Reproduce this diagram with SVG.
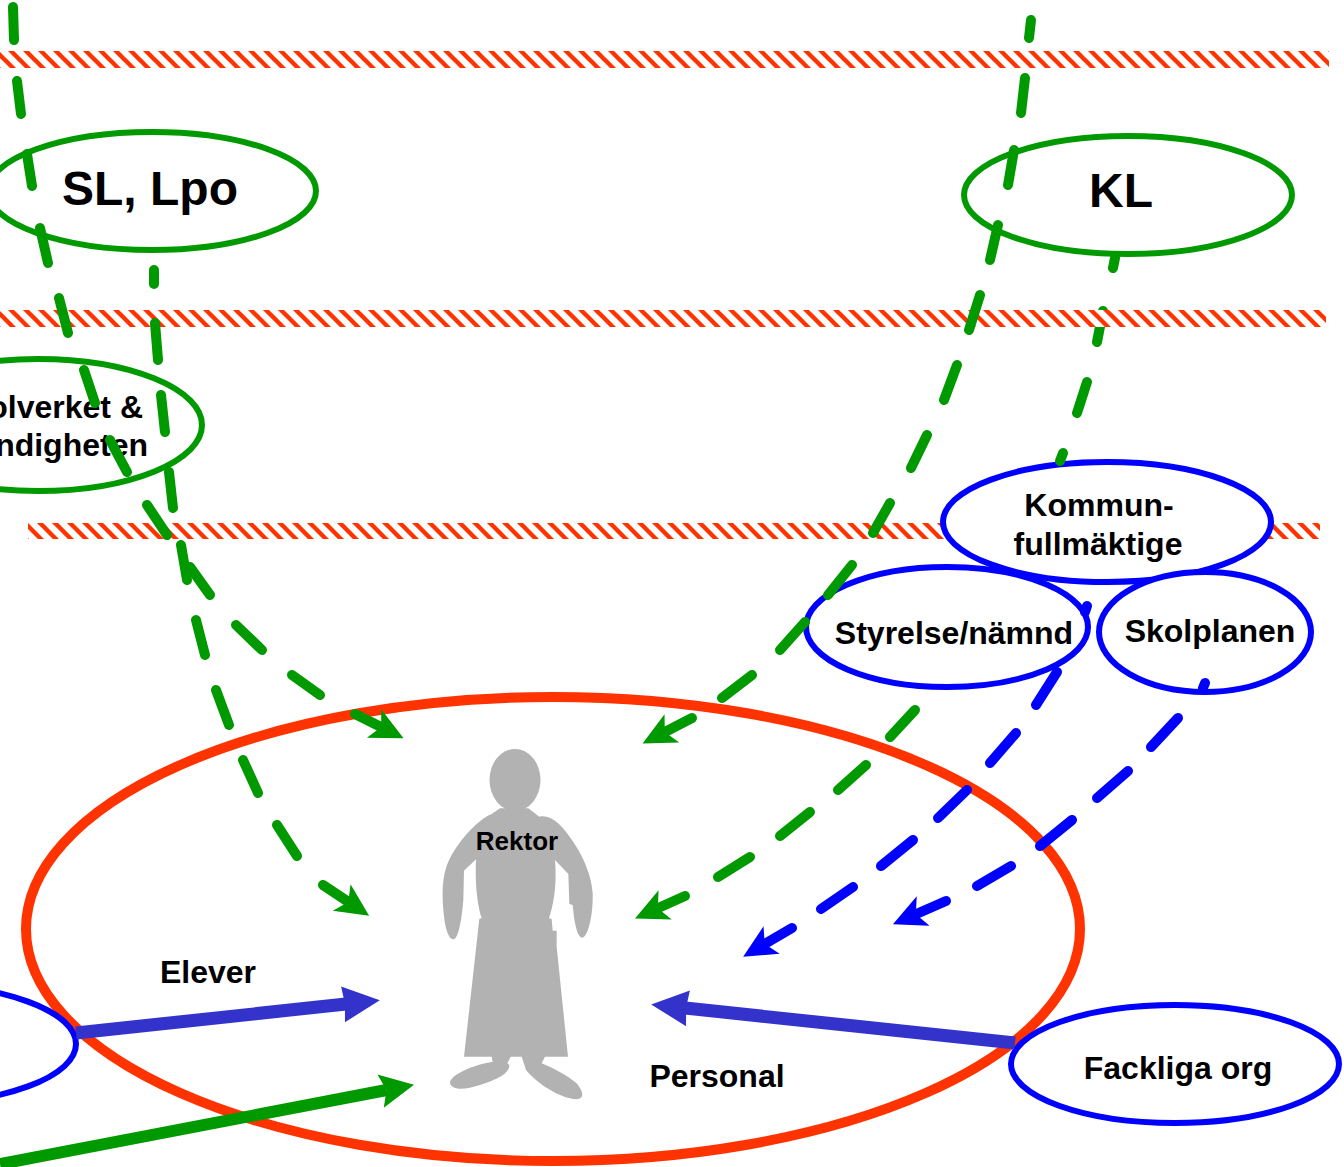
<svg xmlns="http://www.w3.org/2000/svg" width="1344" height="1167" viewBox="0 0 1344 1167">
<style>
text{font-family:"Liberation Sans",Arial,sans-serif;font-weight:bold;fill:#000;text-anchor:middle}
.t32{font-size:32px}.t48{font-size:48px}.t26{font-size:26px}
.ng{fill:#fff;stroke:#009900;stroke-width:6}
.nb{fill:#fff;stroke:#0000ff;stroke-width:6}
.dg{stroke:#009900;stroke-width:10;stroke-linecap:round;fill:none}
.db{stroke:#0000ff;stroke-width:10;stroke-linecap:round;fill:none}
.fig{fill:#b2b2b2}
</style>
<defs>
<pattern id="hatch" patternUnits="userSpaceOnUse" width="15" height="15">
<rect width="15" height="15" fill="#fff"/>
<path d="M-4,-4 L19,19 M-4,11 L4,19 M11,-4 L19,4" stroke="#ff3300" stroke-width="4.4" fill="none"/>
</pattern>
<pattern id="h1" href="#hatch" patternTransform="translate(5 0)"/>
<pattern id="h2" href="#hatch" patternTransform="translate(1 0)"/>
<pattern id="h3" href="#hatch" patternTransform="translate(12 0)"/>
<marker id="hg" markerUnits="userSpaceOnUse" markerWidth="36" markerHeight="36" refX="10" refY="17" orient="auto"><path d="M33,17 L0,1 L8,17 L0,33 Z" fill="#009900"/></marker>
<marker id="hb" markerUnits="userSpaceOnUse" markerWidth="36" markerHeight="36" refX="10" refY="17" orient="auto"><path d="M33,17 L0,1 L8,17 L0,33 Z" fill="#0000ff"/></marker>
<marker id="sp" markerUnits="userSpaceOnUse" markerWidth="40" markerHeight="40" refX="3" refY="19" orient="auto"><path d="M37,19 L0,1 L2,19 L0,37 Z" fill="#3333cc"/></marker>
<marker id="sg" markerUnits="userSpaceOnUse" markerWidth="40" markerHeight="40" refX="6" refY="19" orient="auto"><path d="M34,19 L0,2 L6,19 L0,36 Z" fill="#009900"/></marker>
</defs>

<g id="boundaries">
<rect fill="url(#h1)" x="0" y="51" width="1329" height="17"/>
<rect fill="url(#h2)" x="0" y="310" width="1326" height="17"/>
<rect fill="url(#h3)" x="28" y="523" width="1292" height="16"/>
</g>

<g id="node-rektor-area"><ellipse cx="553" cy="929" rx="527" ry="232" fill="none" stroke="#ff3300" stroke-width="10"/></g>

<g id="node-rektor">
<ellipse class="fig" cx="515" cy="780" rx="25.5" ry="31"/>
<path class="fig" transform="translate(420 730) scale(0.33333)" d="M240,235 L215,252 C170,270 110,340 85,395 C65,440 65,500 72,560 C78,610 90,628 100,628 C115,628 125,570 130,510 L132,422 L168,388 C165,450 170,520 185,565 L178,566 L132,980 L215,980 L218,995 C160,1005 100,1030 90,1055 C90,1080 130,1082 180,1065 C230,1050 270,1030 268,1005 L262,1000 L272,980 L305,980 L318,1020 C350,1060 420,1105 470,1108 C495,1105 490,1085 470,1060 C440,1035 400,1015 365,1000 L375,980 L444,980 L410,650 L410,602 L398,602 L395,567 L387,565 C405,510 410,450 405,390 L445,432 L448,522 L458,525 C462,570 470,622 487,623 C505,620 520,550 518,490 C515,430 480,350 420,285 C400,265 375,255 358,260 L325,235 Z"/>
<text class="t26" x="517" y="850">Rektor</text>
</g>

<g id="node-sl"><ellipse class="ng" cx="152" cy="191" rx="164" ry="59"/><text class="t48" x="150" y="205">SL, Lpo</text></g>
<g id="node-kl"><ellipse class="ng" cx="1128" cy="195" rx="164" ry="59"/><text class="t48" x="1121" y="207">KL</text></g>
<g id="node-skolverket"><ellipse class="ng" cx="38" cy="425" rx="164" ry="66"/>
<text class="t32" style="text-anchor:end" x="143" y="418">olverket &amp;</text>
<text class="t32" style="text-anchor:end" x="148" y="456">ndigheten</text></g>
<g id="node-kommun"><ellipse class="nb" cx="1107" cy="522" rx="164" ry="60"/>
<text class="t32" x="1099" y="516">Kommun-</text><text class="t32" x="1098" y="555">fullmäktige</text></g>
<g id="node-styrelse"><ellipse class="nb" cx="947" cy="627" rx="141" ry="60"/><text class="t32" x="954" y="644">Styrelse/nämnd</text></g>
<g id="node-skolplanen"><ellipse class="nb" cx="1205" cy="632" rx="106" ry="60"/><text class="t32" x="1210" y="642">Skolplanen</text></g>
<g id="node-fackliga"><ellipse class="nb" cx="1175" cy="1064" rx="164" ry="59"/><text class="t32" x="1178" y="1079">Fackliga org</text></g>
<g id="node-elever-source"><ellipse class="nb" cx="-88" cy="1044" rx="164" ry="60"/></g>

<g id="labels">
<text class="t32" x="208" y="983">Elever</text>
<text class="t32" x="717" y="1087">Personal</text>
</g>

<g id="connectors">
<path class="dg" d="M13,7 L14,40 M17,81 L21,114 M27,154 L32,186 M40,228 L48,263 M59,298 L68,333 M84,370 L95,403 M110,440 L127,472 M147,505 L167,535 M190,567 L210,595 M236,625 L262,650 M292,675 L320,695"/>
<path class="dg" d="M355,714 L383,728" marker-end="url(#hg)"/>
<path class="dg" d="M154,270 L154,284 M155,323 L158,360 M161,395 L165,432 M169,472 L173,508 M181,545 L187,580 M196,620 L205,655 M216,690 L229,725 M243,760 L258,793 M277,825 L297,856"/>
<path class="dg" d="M323,885 L350,903" marker-end="url(#hg)"/>
<path class="dg" d="M1031,20 L1029,38 M1025,78 L1021,113 M1014,150 L1008,185 M998,225 L990,260 M980,295 L969,330 M957,365 L944,400 M927,435 L911,468 M890,503 L873,533 M852,565 L828,595 M805,622 L780,650 M752,675 L722,698"/>
<path class="dg" d="M692,718 L663,733" marker-end="url(#hg)"/>
<path class="dg" d="M1115,258 L1113,268 M1103,311 L1097,342 M1087,382 L1077,413 M1063,453 L1060,461 M915,710 L890,737 M866,765 L838,790 M810,812 L780,836 M750,857 L718,877"/>
<path class="dg" d="M685,896 L656,909" marker-end="url(#hg)"/>
<path class="db" d="M1087,606 L1085,612 M1057,672 L1036,705 M1016,733 L990,763 M967,790 L938,818 M913,840 L881,866 M853,887 L821,909"/>
<path class="db" d="M792,928 L763,945" marker-end="url(#hb)"/>
<path class="db" d="M1205,683 L1203,688 M1178,718 L1151,747 M1128,771 L1097,798 M1072,820 L1040,846 M1011,866 L977,886"/>
<path class="db" d="M946,901 L914,915" marker-end="url(#hb)"/>
<path d="M76,1033 L346,1004" stroke="#3333cc" stroke-width="13" fill="none" marker-end="url(#sp)"/>
<path d="M1015,1043 L685,1008" stroke="#3333cc" stroke-width="13" fill="none" marker-end="url(#sp)"/>
<path d="M0,1164 L386.5,1090" stroke="#009900" stroke-width="12" fill="none" marker-end="url(#sg)"/>
</g>

<g id="boundary-overlay"><rect fill="url(#h2)" x="1088" y="310" width="26" height="17"/></g>
</svg>
